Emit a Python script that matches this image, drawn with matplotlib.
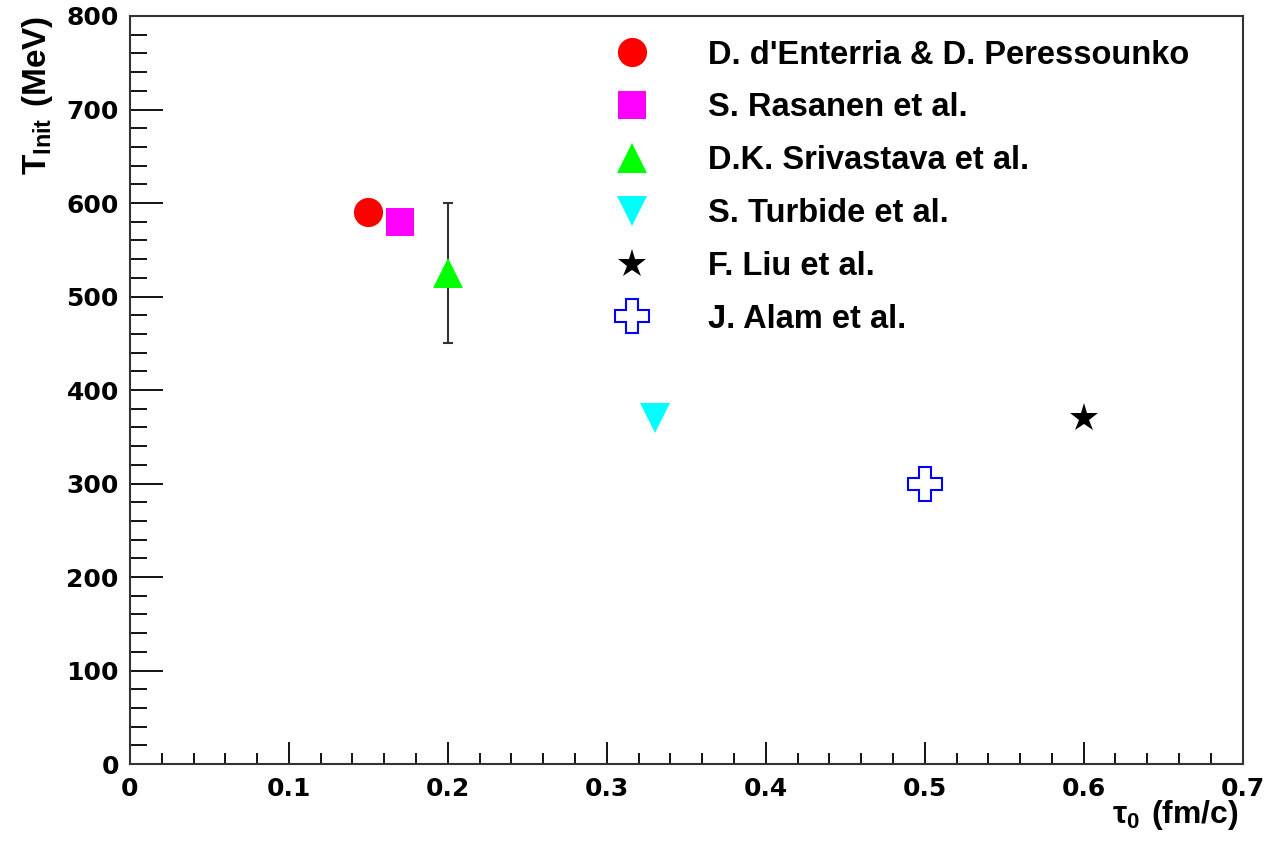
import matplotlib
matplotlib.use("Agg")
import matplotlib.pyplot as plt
from matplotlib.ticker import MultipleLocator

plt.rcParams['font.family'] = ['Liberation Sans', 'DejaVu Sans']
plt.rcParams['font.weight'] = 'bold'
plt.rcParams['mathtext.fontset'] = 'custom'
plt.rcParams['mathtext.rm'] = 'Liberation Sans'
plt.rcParams['mathtext.bf'] = 'Liberation Sans:bold'
plt.rcParams['mathtext.default'] = 'bf'

labels = ["D. d'Enterria & D. Peressounko", "S. Rasanen et al.", "D.K. Srivastava et al.",
          "S. Turbide et al.", "F. Liu et al.", "J. Alam et al."]
tau0 = [0.15, 0.17, 0.20, 0.33, 0.60, 0.50]
tinit = [590, 580, 525, 370, 370, 300]
terr = [0, 0, 75, 0, 0, 0]

markers = ['o', 's', '^', 'v', '*', 'P']
facecolors = ['#ff0000', '#ff00ff', '#00ff00', '#00ffff', '#000000', 'white']
edgecolors = ['#ff0000', '#ff00ff', '#00ff00', '#00ffff', '#000000', '#0000ff']
msizes = [21, 20, 22, 22, 21, 25]

fig = plt.figure(figsize=(12.88, 8.42), dpi=100)
ax = fig.add_axes([0.1009, 0.0926, 0.8639, 0.8884])

handles = []
for i in range(len(labels)):
    if terr[i] > 0:
        ax.errorbar(tau0[i], tinit[i], yerr=terr[i], fmt='none', ecolor='#333333',
                    elinewidth=1.5, capsize=3.5, capthick=1.5, zorder=2)
    h = ax.plot(tau0[i], tinit[i], linestyle='none', marker=markers[i], markersize=msizes[i],
                markerfacecolor=facecolors[i], markeredgecolor=edgecolors[i],
                markeredgewidth=1.5 if markers[i] == 'P' else 0, zorder=3)[0]
    handles.append(h)

ax.set_xlim(0, 0.7)
ax.set_ylim(0, 800)
ax.xaxis.set_minor_locator(MultipleLocator(0.02))
ax.yaxis.set_major_locator(MultipleLocator(100))
ax.yaxis.set_minor_locator(MultipleLocator(20))
ax.set_xticks([0, 0.1, 0.2, 0.3, 0.4, 0.5, 0.6, 0.7])
ax.set_xticklabels(['0', '0.1', '0.2', '0.3', '0.4', '0.5', '0.6', '0.7'])
ax.tick_params(which='both', direction='in', top=False, right=False, labelsize=18, width=1.3)
ax.tick_params(axis='x', which='major', length=16, pad=9)
ax.tick_params(axis='x', which='minor', length=8)
ax.tick_params(axis='y', which='major', length=24, pad=8)
ax.tick_params(axis='y', which='minor', length=12)
for s in ax.spines.values():
    s.set_linewidth(1.5)
    s.set_color('#333333')
for lab in ax.get_xticklabels() + ax.get_yticklabels():
    lab.set_fontweight('bold')
    lab.set_fontfamily('DejaVu Sans')

ax.set_xlabel(r'$\mathrm{\tau}_{\mathbf{0}}\ \mathbf{(fm/c)}$', fontsize=23, loc='right', labelpad=-2)
ax.xaxis.label.set_x(0.996)
ax.set_ylabel(r'$\mathbf{T}_{\mathbf{Init}}\ \mathbf{(MeV)}$', fontsize=24, loc='top', labelpad=8)

leg = ax.legend(handles, labels, loc='upper left', bbox_to_anchor=(0.41, 0.986), frameon=False,
                prop={'family': 'Liberation Sans', 'weight': 'bold', 'size': 23.5},
                labelspacing=0.67, handletextpad=1.33, markerscale=1.0, borderaxespad=0)

fig.savefig('out.png', dpi=100)
